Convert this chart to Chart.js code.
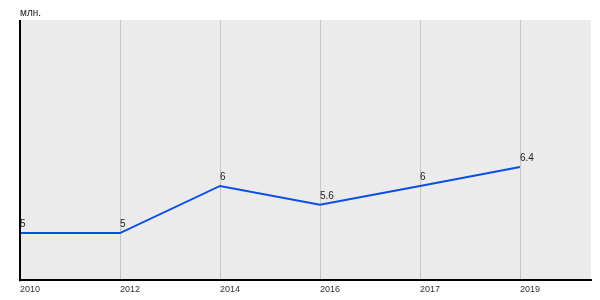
<!DOCTYPE html>
<html>
<head>
<meta charset="utf-8">
<script src="https://cdn.jsdelivr.net/npm/chart.js@4/dist/chart.umd.min.js"></script>
<style>
  html, body { margin: 0; padding: 0; background: #fff; }
  #wrap { width: 600px; height: 300px; }
</style>
</head>
<body>
<div id="wrap"><canvas id="chart" width="600" height="300"></canvas></div>
<script>
// данные графика
const years = ['2010', '2012', '2014', '2016', '2017', '2019'];
const values = [5, 5, 6, 5.6, 6, 6.4];
const valueLabels = ['5', '5', '6', '5.6', '6', '6.4'];
const unitLabel = 'млн.';

const FONT = '"Liberation Sans", Arial, sans-serif';

// серый фон области графика, левая ось и подпись единиц
const plotBackground = {
    id: 'plotBackground',
    beforeDraw(chart) {
        const { ctx, chartArea: a } = chart;
        ctx.save();
        ctx.fillStyle = '#ebebeb';
        ctx.fillRect(a.left, a.top, a.right - a.left, a.bottom - a.top);
        ctx.fillStyle = '#222';
        ctx.font = '10px ' + FONT;
        ctx.textAlign = 'left';
        ctx.textBaseline = 'alphabetic';
        ctx.fillText(unitLabel, a.left, a.top - 4);
        ctx.restore();
    },
    afterDraw(chart) {
        const { ctx, chartArea: a } = chart;
        ctx.save();
        ctx.strokeStyle = '#000';
        ctx.lineWidth = 2;
        ctx.beginPath();
        ctx.moveTo(a.left, a.top);
        ctx.lineTo(a.left, a.bottom + 1);
        ctx.stroke();
        ctx.restore();
    }
};

// подписи значений над точками
const valueLabelsPlugin = {
    id: 'valueLabels',
    afterDatasetsDraw(chart) {
        const { ctx } = chart;
        const meta = chart.getDatasetMeta(0);
        ctx.save();
        ctx.fillStyle = '#222';
        ctx.font = '10px ' + FONT;
        ctx.textAlign = 'left';
        ctx.textBaseline = 'alphabetic';
        meta.data.forEach((pt, i) => {
            ctx.fillText(valueLabels[i], pt.x, pt.y - 6);
        });
        ctx.restore();
    }
};

new Chart(document.getElementById('chart'), {
    type: 'line',
    data: {
        datasets: [{
            data: values.map((v, i) => ({ x: i, y: v })),
            borderColor: '#0a4fe3',
            borderWidth: 2,
            pointRadius: 0,
            tension: 0,
            fill: false
        }]
    },
    options: {
        responsive: false,
        animation: false,
        layout: { padding: { left: 20, top: 20, right: 9, bottom: 1 } },
        plugins: {
            legend: { display: false },
            tooltip: { enabled: false }
        },
        scales: {
            x: {
                type: 'linear',
                min: 0,
                max: 5.71,
                afterBuildTicks(axis) {
                    axis.ticks = years.map((y, i) => ({ value: i }));
                },
                ticks: {
                    align: 'start',
                    padding: 4,
                    color: '#333',
                    font: { family: FONT, size: 9 },
                    callback: (v) => years[v]
                },
                grid: {
                    color: (c) => c.index === 0 ? 'rgba(0,0,0,0)' : '#c6c6c6',
                    lineWidth: 1,
                    drawTicks: false
                },
                border: { display: true, color: '#000', width: 2 }
            },
            y: {
                display: false,
                min: 4,
                max: 9.52
            }
        }
    },
    plugins: [plotBackground, valueLabelsPlugin]
});
</script>
</body>
</html>
